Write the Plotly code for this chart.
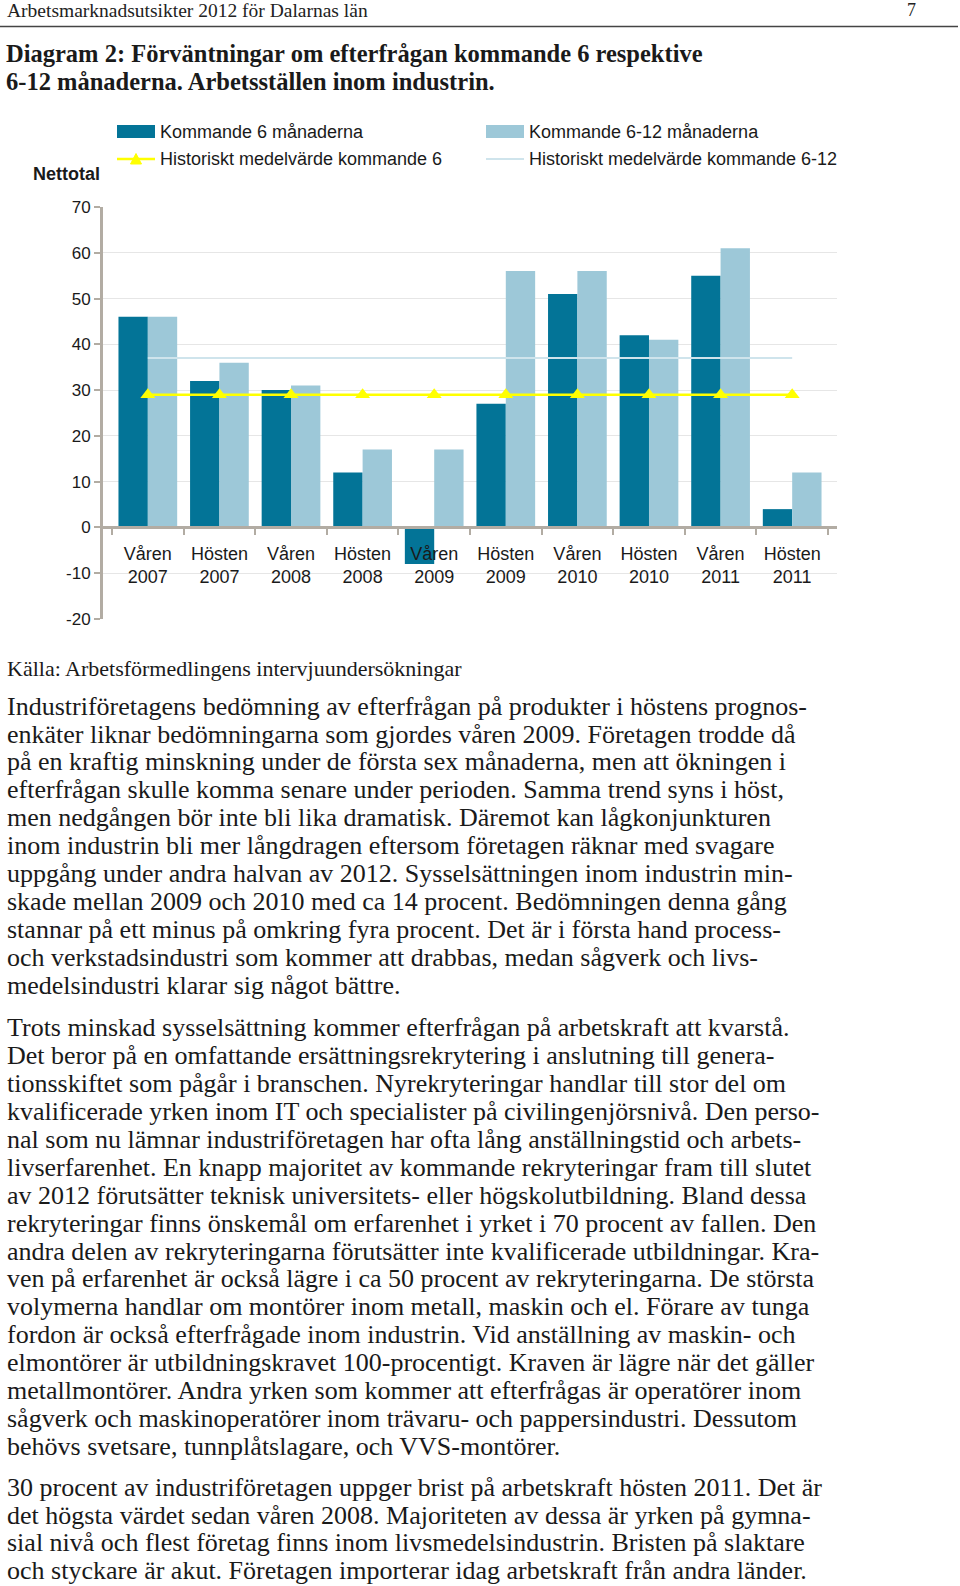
import plotly.graph_objects as go

# ---------------- data ----------------
categories = ["Våren<br>2007", "Hösten<br>2007", "Våren<br>2008", "Hösten<br>2008",
              "Våren<br>2009", "Hösten<br>2009", "Våren<br>2010", "Hösten<br>2010",
              "Våren<br>2011", "Hösten<br>2011"]
next_6 = [46, 32, 30, 12, -8, 27, 51, 42, 55, 4]
next_6_12 = [46, 36, 31, 17, 17, 56, 56, 41, 61, 12]
hist_6 = [29, 29, 29, 29, 29, 29, 29, 29, 29, 29]
hist_6_12 = [37, 37, 37, 37, 37, 37, 37, 37, 37, 37]
y_ticks = [-20, -10, 0, 10, 20, 30, 40, 50, 60, 70]
y_tick_labels = ["-20", "-10", "0", "10", "20", "30", "40", "50", "60", "70"]

series_names = ["Kommande 6 månaderna", "Kommande 6-12 månaderna",
                "Historiskt medelvärde kommande 6", "Historiskt medelvärde kommande 6-12"]

header_text = "Arbetsmarknadsutsikter 2012 för Dalarnas län"
page_number = "7"
title_lines = ["Diagram 2: Förväntningar om efterfrågan kommande 6 respektive",
               "6-12 månaderna. Arbetsställen inom industrin."]
y_title = "Nettotal"
source_text = "Källa: Arbetsförmedlingens intervjuundersökningar"

para1 = [
    "Industriföretagens bedömning av efterfrågan på produkter i höstens prognos-",
    "enkäter liknar bedömningarna som gjordes våren 2009. Företagen trodde då",
    "på en kraftig minskning under de första sex månaderna, men att ökningen i",
    "efterfrågan skulle komma senare under perioden. Samma trend syns i höst,",
    "men nedgången bör inte bli lika dramatisk. Däremot kan lågkonjunkturen",
    "inom industrin bli mer långdragen eftersom företagen räknar med svagare",
    "uppgång under andra halvan av 2012. Sysselsättningen inom industrin min-",
    "skade mellan 2009 och 2010 med ca 14 procent. Bedömningen denna gång",
    "stannar på ett minus på omkring fyra procent. Det är i första hand process-",
    "och verkstadsindustri som kommer att drabbas, medan sågverk och livs-",
    "medelsindustri klarar sig något bättre.",
]
para2 = [
    "Trots minskad sysselsättning kommer efterfrågan på arbetskraft att kvarstå.",
    "Det beror på en omfattande ersättningsrekrytering i anslutning till genera-",
    "tionsskiftet som pågår i branschen. Nyrekryteringar handlar till stor del om",
    "kvalificerade yrken inom IT och specialister på civilingenjörsnivå. Den perso-",
    "nal som nu lämnar industriföretagen har ofta lång anställningstid och arbets-",
    "livserfarenhet. En knapp majoritet av kommande rekryteringar fram till slutet",
    "av 2012 förutsätter teknisk universitets- eller högskolutbildning. Bland dessa",
    "rekryteringar finns önskemål om erfarenhet i yrket i 70 procent av fallen. Den",
    "andra delen av rekryteringarna förutsätter inte kvalificerade utbildningar. Kra-",
    "ven på erfarenhet är också lägre i ca 50 procent av rekryteringarna. De största",
    "volymerna handlar om montörer inom metall, maskin och el. Förare av tunga",
    "fordon är också efterfrågade inom industrin. Vid anställning av maskin- och",
    "elmontörer är utbildningskravet 100-procentigt. Kraven är lägre när det gäller",
    "metallmontörer. Andra yrken som kommer att efterfrågas är operatörer inom",
    "sågverk och maskinoperatörer inom trävaru- och pappersindustri. Dessutom",
    "behövs svetsare, tunnplåtslagare, och VVS-montörer.",
]
para3 = [
    "30 procent av industriföretagen uppger brist på arbetskraft hösten 2011. Det är",
    "det högsta värdet sedan våren 2008. Majoriteten av dessa är yrken på gymna-",
    "sial nivå och flest företag finns inom livsmedelsindustrin. Bristen på slaktare",
    "och styckare är akut. Företagen importerar idag arbetskraft från andra länder.",
]

# ---------------- layout geometry ----------------
W, H = 960, 1586
PL, PT, PW, PH = 103, 207, 734, 412  # plot area in pixels

def xp(px):
    return (px - PL) / PW

def yp(py):
    return (PT + PH - py) / PH

DARK = "#037497"
LIGHT = "#9DC8D8"
YELLOW = "#FFFF00"
HLINE = "#CFE4EC"
AXIS = "#B2ACA3"
GRID = "#E6E6E6"
SANS = "Liberation Sans"
SERIF = "Liberation Serif"
TXT = "#1a1a1a"

fig = go.Figure()
fig.add_trace(go.Bar(x=categories, y=next_6, name=series_names[0], marker_color=DARK,
                     marker_line_width=0, showlegend=False))
fig.add_trace(go.Bar(x=categories, y=next_6_12, name=series_names[1], marker_color=LIGHT,
                     marker_line_width=0, showlegend=False))
fig.add_trace(go.Scatter(x=categories, y=hist_6_12, name=series_names[3], mode="lines",
                         line=dict(color=HLINE, width=2), showlegend=False))
fig.add_trace(go.Scatter(x=categories, y=hist_6, name=series_names[2], mode="lines+markers",
                         line=dict(color=YELLOW, width=2.5),
                         marker=dict(symbol="triangle-up", size=13, color=YELLOW),
                         showlegend=False))

fig.update_layout(
    width=W, height=H,
    margin=dict(l=PL, r=W - PL - PW, t=PT, b=H - PT - PH, pad=0),
    paper_bgcolor="white", plot_bgcolor="white",
    barmode="group", bargap=0.18, bargroupgap=0,
    showlegend=False,
    xaxis=dict(type="category", anchor="free", position=20 / 90,
               showline=True, linecolor=AXIS, linewidth=3,
               ticks="outside", tickson="boundaries", ticklen=6, tickwidth=2, tickcolor=AXIS,
               showgrid=False, tickfont=dict(family=SANS, size=18, color=TXT),
               ticklabelstandoff=9),
    yaxis=dict(range=[-20, 70], tickvals=y_ticks, ticktext=y_tick_labels,
               showgrid=True, gridcolor=GRID, gridwidth=1,
               zeroline=False, showline=True, linecolor=AXIS, linewidth=3,
               ticks="outside", ticklen=6, tickwidth=2, tickcolor=AXIS,
               tickfont=dict(family=SANS, size=17, color=TXT)),
)

shapes = []
annotations = []

def text(px, py, s, size, family=SERIF, bold=False, anchor="left", color=TXT, pad=1):
    annotations.append(dict(x=xp(px), y=yp(py), xref="paper", yref="paper", text=s,
                            showarrow=False, xanchor=anchor, yanchor="middle", borderpad=pad,
                            font=dict(family=family, size=size, color=color,
                                      weight="bold" if bold else "normal")))

# header
text(5, 10, header_text, 19.5, color="#222222")
text(912, 10, page_number, 18, anchor="center", color="#222222")
shapes.append(dict(type="line", xref="paper", yref="paper", x0=xp(0), x1=xp(958),
                   y0=yp(26.5), y1=yp(26.5), line=dict(color="#444444", width=1.5)))
# title
text(5, 53.5, title_lines[0], 24.5, bold=True, pad=0)
text(5, 81.5, title_lines[1], 24.5, bold=True, pad=0)

# legend (drawn manually)
r1, r2 = 131.5, 159
shapes.append(dict(type="rect", xref="paper", yref="paper", x0=xp(117), x1=xp(155),
                   y0=yp(r1 - 6.5), y1=yp(r1 + 6.5), fillcolor=DARK, line_width=0))
shapes.append(dict(type="rect", xref="paper", yref="paper", x0=xp(486), x1=xp(524),
                   y0=yp(r1 - 6.5), y1=yp(r1 + 6.5), fillcolor=LIGHT, line_width=0))
shapes.append(dict(type="line", xref="paper", yref="paper", x0=xp(117), x1=xp(155),
                   y0=yp(r2), y1=yp(r2), line=dict(color=YELLOW, width=2.5)))
shapes.append(dict(type="path", xref="paper", yref="paper",
                   path=f"M{xp(130.5)},{yp(r2 + 5)} L{xp(141.5)},{yp(r2 + 5)} L{xp(136)},{yp(r2 - 5.5)} Z",
                   fillcolor=YELLOW, line=dict(color=YELLOW, width=1)))
shapes.append(dict(type="line", xref="paper", yref="paper", x0=xp(486), x1=xp(524),
                   y0=yp(r2), y1=yp(r2), line=dict(color=HLINE, width=2)))
text(158, r1, series_names[0], 18, family=SANS)
text(158, r2, series_names[2], 18, family=SANS)
text(527, r1, series_names[1], 18, family=SANS)
text(527, r2, series_names[3], 18, family=SANS)

# y axis title
text(31, 174, y_title, 18, family=SANS, bold=True)

# source
text(5, 668, source_text, 22)

# body paragraphs
PITCH = 27.9
BODY = 26
for start, lines in ((706.1, para1), (1027.8, para2), (1487.1, para3)):
    for i, ln in enumerate(lines):
        text(5, start + i * PITCH, ln, BODY)

fig.update_layout(shapes=shapes, annotations=annotations)
fig.write_html("out.html", config={"displayModeBar": False},
               post_script="document.body.style.margin='0px';")
